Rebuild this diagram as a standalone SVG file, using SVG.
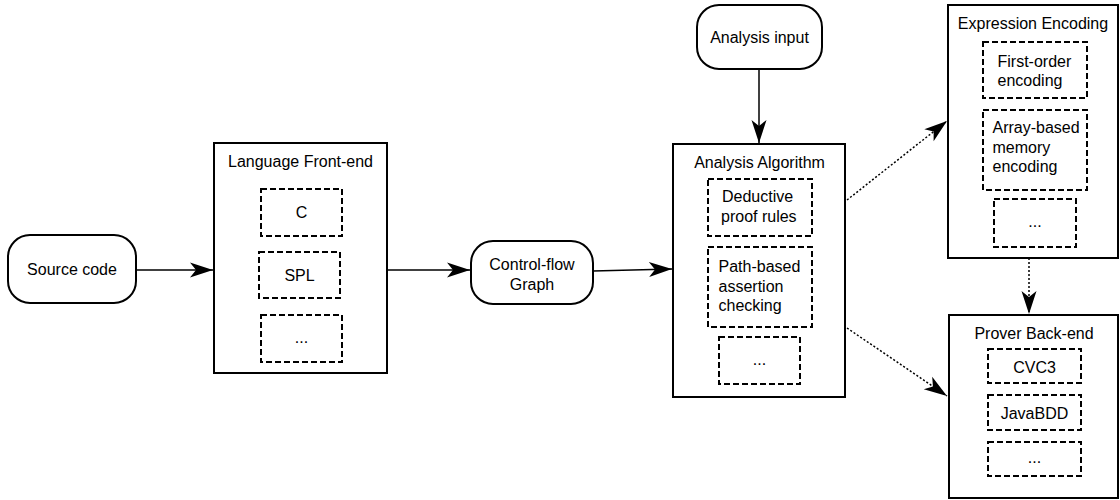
<svg xmlns="http://www.w3.org/2000/svg" width="1120" height="500" viewBox="0 0 1120 500">
<style>
text{font-family:"Liberation Sans",Arial,sans-serif;font-size:16px;fill:#000}
.c{text-anchor:middle}
.box{fill:#fff;stroke:#000;stroke-width:2}
.term{fill:#fff;stroke:#000;stroke-width:2}
.dash{fill:#fff;stroke:#000;stroke-width:2;stroke-dasharray:6 3}
.edge{fill:none;stroke:#000;stroke-width:1.5}
.dot{fill:none;stroke:#000;stroke-width:1.5;stroke-dasharray:2 2}
</style>
<defs>
<marker id="arr" markerUnits="userSpaceOnUse" markerWidth="26" markerHeight="18" viewBox="-25 -9 26 18" refX="0" refY="0" orient="auto">
<path d="M0,0 L-23,-7.5 L-17,0 L-23,7.5 Z" fill="#000"/>
</marker>
</defs>
<rect width="1120" height="500" fill="#fff"/>
<g id="connectors">
<path class="edge" d="M136,270 L213,270" marker-end="url(#arr)"/>
<path class="edge" d="M387,270 L470,270" marker-end="url(#arr)"/>
<path class="edge" d="M593,271 L672,269" marker-end="url(#arr)"/>
<path class="edge" d="M759,69 L759,143" marker-end="url(#arr)"/>
<path class="dot" d="M847,200 L947,121" marker-end="url(#arr)"/>
<path class="dot" d="M847,328 L947,396" marker-end="url(#arr)"/>
<path class="dot" d="M1029,258 L1029,314" marker-end="url(#arr)"/>
</g>
<g id="source-code">
<rect class="term" x="8" y="235" width="128" height="68" rx="22" ry="22"/>
<text class="c" x="72" y="275">Source code</text>
</g>
<g id="language-front-end">
<rect class="box" x="214" y="143" width="173" height="230"/>
<text class="c" x="300.5" y="167">Language Front-end</text>
<rect class="dash" x="261" y="189" width="81" height="47"/>
<text class="c" x="301.5" y="218">C</text>
<rect class="dash" x="259" y="252" width="81" height="46"/>
<text class="c" x="299.5" y="281">SPL</text>
<rect class="dash" x="261" y="315" width="81" height="47"/>
<text class="c" x="301.5" y="343">...</text>
</g>
<g id="control-flow-graph">
<rect class="term" x="471" y="241" width="122" height="63" rx="22" ry="22"/>
<text class="c" x="532" y="270">Control-flow</text>
<text class="c" x="532" y="290">Graph</text>
</g>
<g id="analysis-input">
<rect class="term" x="697" y="5" width="125" height="64" rx="22" ry="22"/>
<text class="c" x="759.5" y="43">Analysis input</text>
</g>
<g id="analysis-algorithm">
<rect class="box" x="673" y="144" width="172" height="253"/>
<text class="c" x="759.5" y="168">Analysis Algorithm</text>
<rect class="dash" x="708" y="179" width="104" height="57"/>
<text x="722" y="202">Deductive</text>
<text x="721" y="222">proof rules</text>
<rect class="dash" x="708" y="247" width="104" height="80"/>
<text x="718.5" y="272">Path-based</text>
<text x="718.5" y="291.5">assertion</text>
<text x="718.5" y="311">checking</text>
<rect class="dash" x="719" y="337" width="81" height="47"/>
<text class="c" x="759.5" y="365">...</text>
</g>
<g id="expression-encoding">
<rect class="box" x="948" y="5" width="170" height="253"/>
<text class="c" x="1033" y="29">Expression Encoding</text>
<rect class="dash" x="983" y="42" width="104" height="56"/>
<text x="997.5" y="66.5">First-order</text>
<text x="997.5" y="86">encoding</text>
<rect class="dash" x="983" y="110" width="104" height="80"/>
<text x="992.5" y="133">Array-based</text>
<text x="992.5" y="152.5">memory</text>
<text x="992.5" y="172">encoding</text>
<rect class="dash" x="994" y="199" width="82" height="48"/>
<text class="c" x="1035" y="227">...</text>
</g>
<g id="prover-back-end">
<rect class="box" x="949" y="315" width="169" height="183"/>
<text class="c" x="1034" y="339">Prover Back-end</text>
<rect class="dash" x="988" y="349" width="93" height="34"/>
<text class="c" x="1034.5" y="373">CVC3</text>
<rect class="dash" x="988" y="395" width="93" height="35"/>
<text class="c" x="1034.5" y="419">JavaBDD</text>
<rect class="dash" x="988" y="442" width="93" height="34"/>
<text class="c" x="1034.5" y="463">...</text>
</g>
</svg>
